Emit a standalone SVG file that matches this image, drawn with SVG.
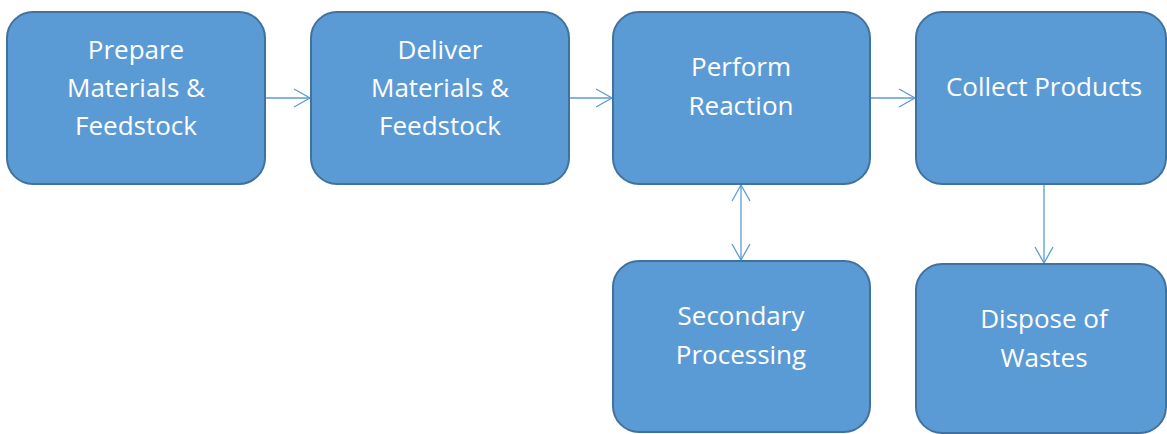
<svg xmlns="http://www.w3.org/2000/svg" width="1167" height="434" viewBox="0 0 1167 434">
<style>
.box{fill:#5B9BD5;stroke:#41719C;stroke-width:2}
.lbl{font-family:"Open Sans","Noto Sans",sans-serif;font-size:26px;fill:#FFFFFF;text-anchor:middle}
.conn{stroke:#5B9BD5;stroke-width:1.3;fill:none}
</style>
<defs>
<marker id="arr" markerUnits="userSpaceOnUse" markerWidth="20" markerHeight="22" refX="17" refY="10" orient="auto-start-reverse" viewBox="0 0 20 22">
<path d="M1,1 L17,10 L1,19" fill="none" stroke="#5B9BD5" stroke-width="1.3"/>
</marker>
</defs>
<g id="connectors">
<line class="conn" x1="265" y1="98" x2="310" y2="98" marker-end="url(#arr)"/>
<line class="conn" x1="569" y1="98" x2="612" y2="98" marker-end="url(#arr)"/>
<line class="conn" x1="870" y1="98" x2="915" y2="98" marker-end="url(#arr)"/>
<line class="conn" x1="741" y1="185" x2="741" y2="260" marker-start="url(#arr)" marker-end="url(#arr)"/>
<line class="conn" x1="1044" y1="184" x2="1044" y2="263" marker-end="url(#arr)"/>
</g>
<g id="n1"><rect class="box" x="7" y="12" width="258" height="172" rx="26"/>
<text class="lbl" x="136" y="59">Prepare</text><text class="lbl" x="136" y="97">Materials &amp;</text><text class="lbl" x="136" y="135">Feedstock</text></g>
<g id="n2"><rect class="box" x="311" y="12" width="258" height="172" rx="26"/>
<text class="lbl" x="440" y="59">Deliver</text><text class="lbl" x="440" y="97">Materials &amp;</text><text class="lbl" x="440" y="135">Feedstock</text></g>
<g id="n3"><rect class="box" x="613" y="12" width="257" height="172" rx="26"/>
<text class="lbl" x="741" y="76">Perform</text><text class="lbl" x="741" y="115">Reaction</text></g>
<g id="n4"><rect class="box" x="916" y="12" width="250" height="172" rx="26"/>
<text class="lbl" x="1044" y="96">Collect Products</text></g>
<g id="n5"><rect class="box" x="613" y="261" width="257" height="171" rx="26"/>
<text class="lbl" x="741" y="325">Secondary</text><text class="lbl" x="741" y="364">Processing</text></g>
<g id="n6"><rect class="box" x="916" y="264" width="250" height="169" rx="26"/>
<text class="lbl" x="1044" y="328">Dispose of</text><text class="lbl" x="1044" y="367">Wastes</text></g>
</svg>
